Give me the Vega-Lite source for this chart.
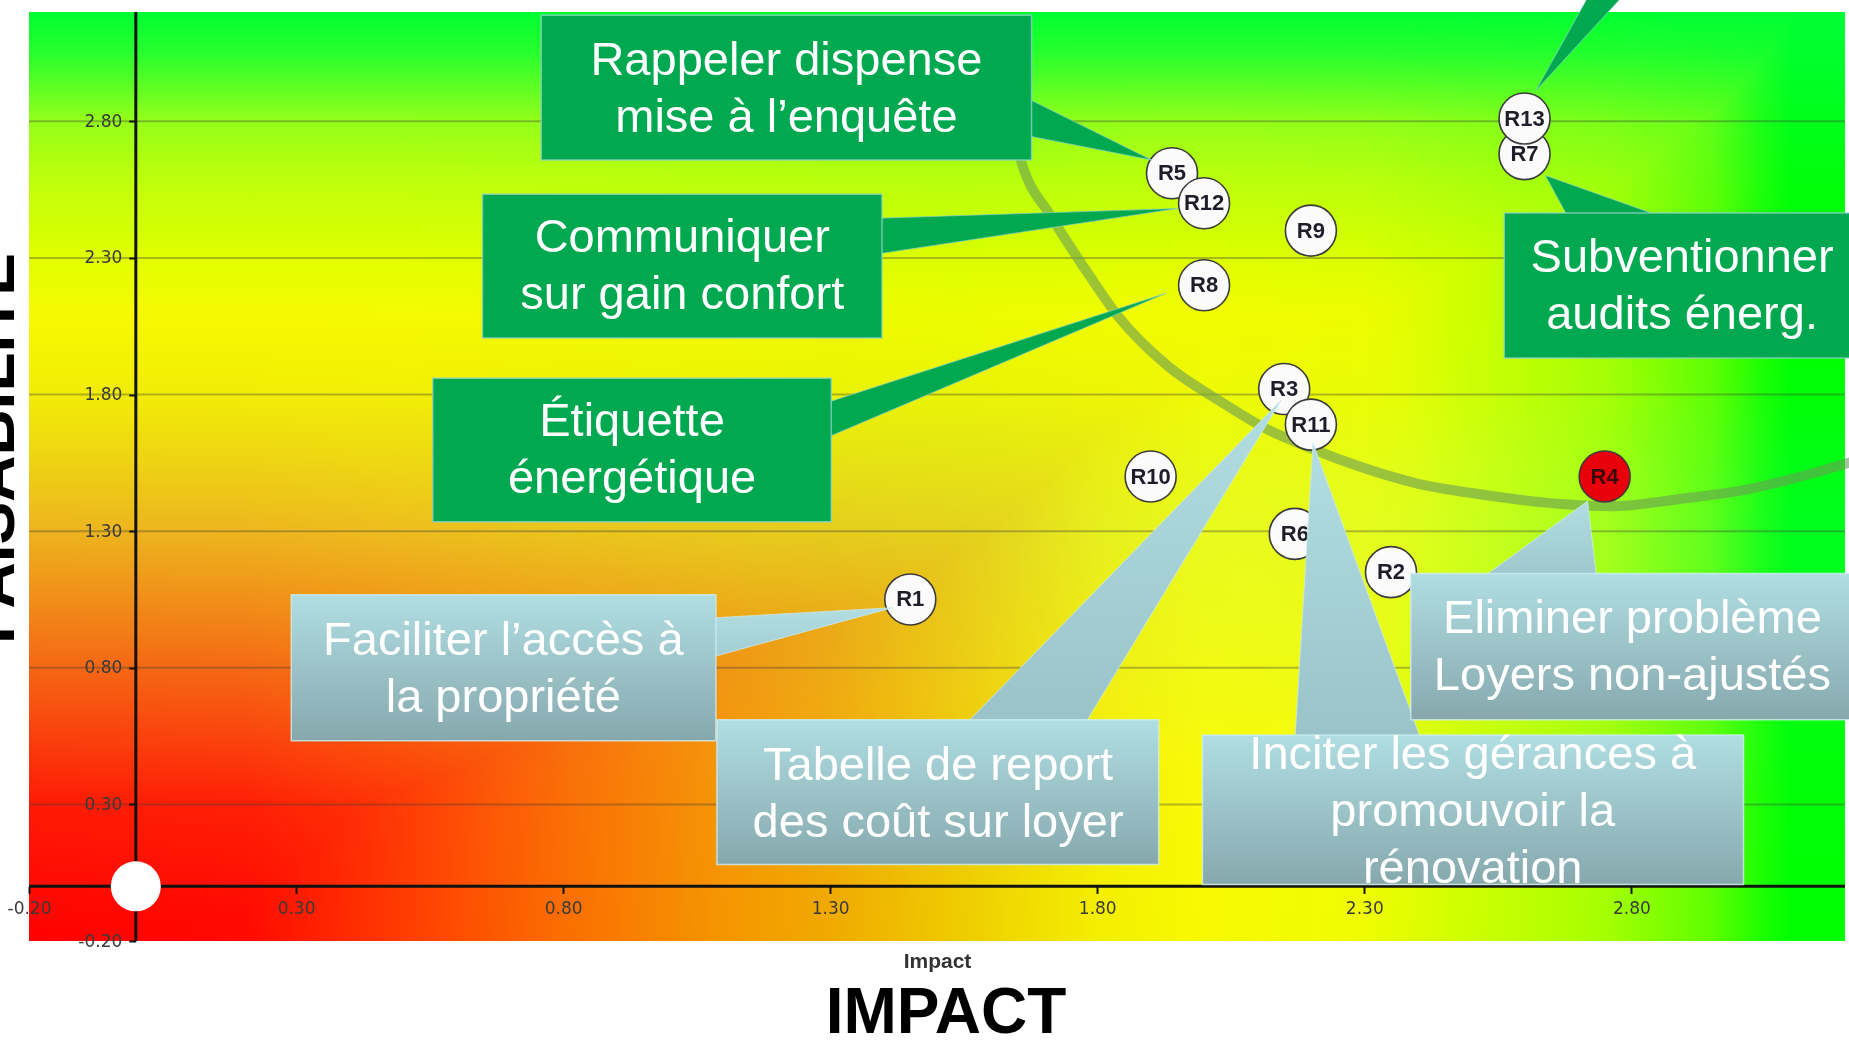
{
  "$schema": "https://vega.github.io/schema/vega-lite/v6.json",
  "width": 1816,
  "height": 929,
  "autosize": {"type": "none"},
  "padding": {"left": 29, "top": 12, "right": 4, "bottom": 102},
  "background": "#ffffff",
  "title": {"text": "IMPACT", "orient": "bottom", "anchor": "middle", "frame": "group", "font": "Liberation Sans", "fontSize": 64, "fontWeight": "bold", "color": "#000000", "baseline": "alphabetic", "offset": 62, "dx": 9},
  "config": {"view": {"stroke": null}},
  "resolve": {"axis": {"x": "independent", "y": "independent"}},
  "datasets": {
    "points": [
      {"label": "R1", "impact": 1.45, "faisabilite": 1.05, "group": "normal"},
      {"label": "R2", "impact": 2.35, "faisabilite": 1.15, "group": "normal"},
      {"label": "R6", "impact": 2.17, "faisabilite": 1.29, "group": "normal"},
      {"label": "R10", "impact": 1.9, "faisabilite": 1.5, "group": "normal"},
      {"label": "R3", "impact": 2.15, "faisabilite": 1.82, "group": "normal"},
      {"label": "R11", "impact": 2.2, "faisabilite": 1.69, "group": "normal"},
      {"label": "R4", "impact": 2.75, "faisabilite": 1.5, "group": "critical"},
      {"label": "R8", "impact": 2.0, "faisabilite": 2.2, "group": "normal"},
      {"label": "R9", "impact": 2.2, "faisabilite": 2.4, "group": "normal"},
      {"label": "R5", "impact": 1.94, "faisabilite": 2.61, "group": "normal"},
      {"label": "R12", "impact": 2.0, "faisabilite": 2.5, "group": "normal"},
      {"label": "R7", "impact": 2.6, "faisabilite": 2.68, "group": "normal"},
      {"label": "R13", "impact": 2.6, "faisabilite": 2.81, "group": "normal"}
    ],
    "grid": [{"y": 0.3}, {"y": 0.8}, {"y": 1.3}, {"y": 1.8}, {"y": 2.3}, {"y": 2.8}],
    "arc": [
      {"x": 1.646, "y": 2.735}, {"x": 1.659, "y": 2.645}, {"x": 1.714, "y": 2.451}, {"x": 1.778, "y": 2.257},
      {"x": 1.84, "y": 2.084}, {"x": 1.933, "y": 1.903}, {"x": 2.028, "y": 1.778}, {"x": 2.12, "y": 1.671},
      {"x": 2.176, "y": 1.623}, {"x": 2.271, "y": 1.55}, {"x": 2.394, "y": 1.477}, {"x": 2.52, "y": 1.434},
      {"x": 2.67, "y": 1.399}, {"x": 2.763, "y": 1.391}, {"x": 2.888, "y": 1.417}, {"x": 3.012, "y": 1.451},
      {"x": 3.138, "y": 1.511}, {"x": 3.21, "y": 1.552}
    ],
    "pointersV": [
      {"id": "p1", "kind": "green", "x": 1.62, "ylo": 2.766, "yhi": 2.932},
      {"id": "p1", "kind": "green", "x": 1.902, "ylo": 2.658, "yhi": 2.658},
      {"id": "p2", "kind": "green", "x": 1.34, "ylo": 2.3, "yhi": 2.442},
      {"id": "p2", "kind": "green", "x": 1.951, "ylo": 2.481, "yhi": 2.481},
      {"id": "p3", "kind": "green", "x": 1.245, "ylo": 1.602, "yhi": 1.74},
      {"id": "p3", "kind": "green", "x": 1.929, "ylo": 2.171, "yhi": 2.171},
      {"id": "p6", "kind": "blue", "x": 1.03, "ylo": 0.813, "yhi": 0.977},
      {"id": "p6", "kind": "blue", "x": 1.417, "ylo": 1.02, "yhi": 1.02}
    ],
    "pointersH": [
      {"id": "p4", "kind": "green", "y": 2.912, "xlo": 2.621, "xhi": 2.621},
      {"id": "p4", "kind": "green", "y": 3.35, "xlo": 2.746, "xhi": 2.827},
      {"id": "p5", "kind": "green", "y": 2.602, "xlo": 2.639, "xhi": 2.639},
      {"id": "p5", "kind": "green", "y": 2.4, "xlo": 2.695, "xhi": 2.93},
      {"id": "p7", "kind": "blue", "y": 1.781, "xlo": 2.145, "xhi": 2.145},
      {"id": "p7", "kind": "blue", "y": 0.55, "xlo": 1.532, "xhi": 1.763},
      {"id": "p8", "kind": "blue", "y": 1.623, "xlo": 2.204, "xhi": 2.204},
      {"id": "p8", "kind": "blue", "y": 0.5, "xlo": 2.169, "xhi": 2.413},
      {"id": "p9", "kind": "blue", "y": 1.41, "xlo": 2.718, "xhi": 2.718},
      {"id": "p9", "kind": "blue", "y": 1.08, "xlo": 2.486, "xhi": 2.738}
    ],
    "boxes": [
      {"id": "b1", "kind": "green", "x1": 0.759, "x2": 1.677, "y1": 2.658, "y2": 3.188, "cx": 1.218, "cy": 3.02, "text": "Rappeler dispense|mise à l’enquête"},
      {"id": "b2", "kind": "green", "x1": 0.649, "x2": 1.397, "y1": 2.007, "y2": 2.533, "cx": 1.023, "cy": 2.373, "text": "Communiquer|sur gain confort"},
      {"id": "b3", "kind": "green", "x1": 0.556, "x2": 1.302, "y1": 1.334, "y2": 1.86, "cx": 0.929, "cy": 1.701, "text": "Étiquette|énergétique"},
      {"id": "b5", "kind": "green", "x1": 2.562, "x2": 3.21, "y1": 1.934, "y2": 2.464, "cx": 2.895, "cy": 2.3, "text": "Subventionner|audits énerg."},
      {"id": "b6", "kind": "blue", "x1": 0.291, "x2": 1.086, "y1": 0.533, "y2": 1.067, "cx": 0.688, "cy": 0.899, "text": "Faciliter l’accès à|la propriété"},
      {"id": "b7", "kind": "blue", "x1": 1.088, "x2": 1.915, "y1": 0.08, "y2": 0.61, "cx": 1.502, "cy": 0.442, "text": "Tabelle de report|des coût sur loyer"},
      {"id": "b8", "kind": "blue", "x1": 1.997, "x2": 3.01, "y1": 0.007, "y2": 0.554, "cx": 2.503, "cy": 0.481, "text": "Inciter les gérances à|promouvoir la|rénovation"},
      {"id": "b9", "kind": "blue", "x1": 2.387, "x2": 3.21, "y1": 0.61, "y2": 1.145, "cx": 2.802, "cy": 0.977, "text": "Eliminer problème|Loyers non-ajustés"}
    ]
  },
  "layer": [
    {
      "data": {"values": [{}]},
      "mark": {"type": "rect", "fill": {"gradient": "linear", "x1": 0, "y1": 1, "x2": 0, "y2": 0, "stops": [
        {"offset": 0, "color": "#FF0000"}, {"offset": 0.147, "color": "#FF1A06"}, {"offset": 0.294, "color": "#F56614"},
        {"offset": 0.441, "color": "#EDB41E"}, {"offset": 0.515, "color": "#EED214"}, {"offset": 0.588, "color": "#F2EC06"},
        {"offset": 0.676, "color": "#F6FA00"}, {"offset": 0.735, "color": "#E2FF00"}, {"offset": 0.82, "color": "#BEFF0C"},
        {"offset": 0.882, "color": "#96FF19"}, {"offset": 0.956, "color": "#28FF2D"}, {"offset": 1, "color": "#00FF32"}]}},
      "encoding": {
        "x": {"datum": -0.2, "type": "quantitative", "scale": {"domain": [-0.2, 3.2], "nice": false, "zero": false}, "axis": null},
        "x2": {"datum": 3.2},
        "y": {"datum": -0.2, "type": "quantitative", "scale": {"domain": [-0.2, 3.2], "nice": false, "zero": false}, "axis": null},
        "y2": {"datum": 3.2}
      }
    },
    {
      "data": {"values": [{}]},
      "mark": {"type": "rect", "blend": "multiply", "opacity": 0.5, "fill": {"gradient": "linear", "x1": 0, "y1": 0, "x2": 1, "y2": 0, "stops": [
        {"offset": 0, "color": "#FFFFFF"}, {"offset": 0.206, "color": "#FFFFFF"}, {"offset": 0.294, "color": "#FAFFFF"},
        {"offset": 0.382, "color": "#F5FFFF"}, {"offset": 0.441, "color": "#F0FFFF"}, {"offset": 0.515, "color": "#EEFFFF"},
        {"offset": 0.588, "color": "#F4FFFF"}, {"offset": 0.647, "color": "#F8FFFF"}, {"offset": 0.735, "color": "#F0FFFF"},
        {"offset": 0.794, "color": "#CDFFFF"}, {"offset": 0.868, "color": "#A5FFFF"}, {"offset": 0.926, "color": "#5FFFFF"},
        {"offset": 0.956, "color": "#19FFFF"}, {"offset": 0.971, "color": "#00FFFF"}, {"offset": 1, "color": "#00FFFF"}]}},
      "encoding": {
        "x": {"datum": -0.2, "type": "quantitative", "scale": {"domain": [-0.2, 3.2], "nice": false, "zero": false}, "axis": null},
        "x2": {"datum": 3.2},
        "y": {"datum": -0.2, "type": "quantitative", "scale": {"domain": [-0.2, 3.2], "nice": false, "zero": false}, "axis": null},
        "y2": {"datum": 3.2}
      }
    },
    {
      "data": {"values": [{}]},
      "mark": {"type": "rect", "blend": "darken", "fill": {"gradient": "linear", "x1": 0, "y1": 0, "x2": 1, "y2": 0, "stops": [
        {"offset": 0, "color": "#FFFFFF"}, {"offset": 0.206, "color": "#FFFFFF"}, {"offset": 0.294, "color": "#FAFFFF"},
        {"offset": 0.382, "color": "#F5FFFF"}, {"offset": 0.441, "color": "#F0FFFF"}, {"offset": 0.515, "color": "#EEFFFF"},
        {"offset": 0.588, "color": "#F4FFFF"}, {"offset": 0.647, "color": "#F8FFFF"}, {"offset": 0.735, "color": "#F0FFFF"},
        {"offset": 0.794, "color": "#CDFFFF"}, {"offset": 0.868, "color": "#A5FFFF"}, {"offset": 0.926, "color": "#5FFFFF"},
        {"offset": 0.956, "color": "#19FFFF"}, {"offset": 0.971, "color": "#00FFFF"}, {"offset": 1, "color": "#00FFFF"}]}},
      "encoding": {
        "x": {"datum": -0.2, "type": "quantitative", "scale": {"domain": [-0.2, 3.2], "nice": false, "zero": false}, "axis": null},
        "x2": {"datum": 3.2},
        "y": {"datum": -0.2, "type": "quantitative", "scale": {"domain": [-0.2, 3.2], "nice": false, "zero": false}, "axis": null},
        "y2": {"datum": 3.2}
      }
    },
    {
      "data": {"values": [{}]},
      "mark": {"type": "rect", "blend": "screen", "opacity": 0.5, "fill": {"gradient": "linear", "x1": 0, "y1": 0, "x2": 1, "y2": 0, "stops": [
        {"offset": 0, "color": "#000000"}, {"offset": 0.118, "color": "#000A00"}, {"offset": 0.206, "color": "#003C00"},
        {"offset": 0.294, "color": "#006E00"}, {"offset": 0.382, "color": "#009600"}, {"offset": 0.441, "color": "#00AA00"},
        {"offset": 0.515, "color": "#00CD00"}, {"offset": 0.588, "color": "#00EE00"}, {"offset": 0.647, "color": "#00FA00"},
        {"offset": 0.735, "color": "#00FC00"}, {"offset": 0.794, "color": "#00FF00"}, {"offset": 1, "color": "#00FF00"}]}},
      "encoding": {
        "x": {"datum": -0.2, "type": "quantitative", "scale": {"domain": [-0.2, 3.2], "nice": false, "zero": false}, "axis": null},
        "x2": {"datum": 3.2},
        "y": {"datum": -0.2, "type": "quantitative", "scale": {"domain": [-0.2, 3.2], "nice": false, "zero": false}, "axis": null},
        "y2": {"datum": 3.2}
      }
    },
    {
      "data": {"values": [{}]},
      "mark": {"type": "rect", "blend": "lighten", "fill": {"gradient": "linear", "x1": 0, "y1": 0, "x2": 1, "y2": 0, "stops": [
        {"offset": 0, "color": "#000000"}, {"offset": 0.118, "color": "#000A00"}, {"offset": 0.206, "color": "#003C00"},
        {"offset": 0.294, "color": "#006E00"}, {"offset": 0.382, "color": "#009600"}, {"offset": 0.441, "color": "#00AA00"},
        {"offset": 0.515, "color": "#00CD00"}, {"offset": 0.588, "color": "#00EE00"}, {"offset": 0.647, "color": "#00FA00"},
        {"offset": 0.735, "color": "#00FC00"}, {"offset": 0.794, "color": "#00FF00"}, {"offset": 1, "color": "#00FF00"}]}},
      "encoding": {
        "x": {"datum": -0.2, "type": "quantitative", "scale": {"domain": [-0.2, 3.2], "nice": false, "zero": false}, "axis": null},
        "x2": {"datum": 3.2},
        "y": {"datum": -0.2, "type": "quantitative", "scale": {"domain": [-0.2, 3.2], "nice": false, "zero": false}, "axis": null},
        "y2": {"datum": 3.2}
      }
    },
    {
      "data": {"name": "grid"},
      "mark": {"type": "rule", "stroke": "#3a3a3a", "strokeOpacity": 0.35, "strokeWidth": 2},
      "encoding": {
        "y": {"field": "y", "type": "quantitative", "scale": {"domain": [-0.2, 3.2], "nice": false, "zero": false}, "axis": null}
      }
    },
    {
      "data": {"values": [{}]},
      "mark": {"type": "rule", "stroke": "#111111", "strokeWidth": 3},
      "encoding": {
        "x": {"datum": 0, "type": "quantitative", "scale": {"domain": [-0.2, 3.2], "nice": false, "zero": false}, "axis": null}
      }
    },
    {
      "data": {"values": [{}]},
      "mark": {"type": "rule", "stroke": "#111111", "strokeWidth": 3},
      "encoding": {
        "y": {"datum": 0, "type": "quantitative", "scale": {"domain": [-0.2, 3.2], "nice": false, "zero": false}, "axis": null}
      }
    },
    {
      "data": {"name": "arc"},
      "mark": {"type": "line", "interpolate": "monotone", "stroke": "#6A9C55", "strokeWidth": 10, "opacity": 0.6, "strokeCap": "round"},
      "encoding": {
        "x": {"field": "x", "type": "quantitative", "scale": {"domain": [-0.2, 3.2], "nice": false, "zero": false}, "axis": null},
        "y": {"field": "y", "type": "quantitative", "scale": {"domain": [-0.2, 3.2], "nice": false, "zero": false}, "axis": null}
      }
    },
    {
      "data": {"values": [{}]},
      "mark": {"type": "circle", "size": 2500, "fill": "#ffffff", "opacity": 1},
      "encoding": {
        "x": {"datum": 0, "type": "quantitative", "scale": {"domain": [-0.2, 3.2], "nice": false, "zero": false}, "axis": null},
        "y": {"datum": 0, "type": "quantitative", "scale": {"domain": [-0.2, 3.2], "nice": false, "zero": false}, "axis": null}
      }
    },
    {
      "data": {"name": "points"},
      "mark": {"type": "circle", "size": 2600, "opacity": 1, "stroke": "#3b3b3b", "strokeWidth": 1.6},
      "encoding": {
        "x": {"field": "impact", "type": "quantitative", "scale": {"domain": [-0.2, 3.2], "nice": false, "zero": false},
          "axis": {"orient": "bottom", "title": "Impact", "values": [-0.2, 0.3, 0.8, 1.3, 1.8, 2.3, 2.8], "format": ".2f", "labelExpr": "replace(datum.label, '−', '-')", "offset": -54.6, "domain": false, "grid": false, "ticks": true, "tickSize": 7, "tickWidth": 2, "tickColor": "#111111", "labelFont": "DejaVu Sans", "labelFontSize": 17, "labelColor": "#3a3a3a", "labelPadding": 7, "labelFlush": false, "labelOverlap": false, "titleFont": "Liberation Sans", "titleFontSize": 21, "titleFontWeight": "bold", "titleColor": "#333333", "titleY": 75, "titleBaseline": "middle", "zindex": 1}},
        "y": {"field": "faisabilite", "type": "quantitative", "scale": {"domain": [-0.2, 3.2], "nice": false, "zero": false},
          "axis": {"orient": "left", "title": "FAISABILITE", "values": [-0.2, 0.3, 0.8, 1.3, 1.8, 2.3, 2.8], "format": ".2f", "labelExpr": "replace(datum.label, '−', '-')", "offset": -106.8, "domain": false, "grid": false, "ticks": true, "tickSize": 7, "tickWidth": 2, "tickColor": "#111111", "labelFont": "DejaVu Sans", "labelFontSize": 17, "labelColor": "#3a3a3a", "labelPadding": 7, "labelOverlap": false, "titleFont": "Liberation Sans", "titleFontSize": 64, "titleFontWeight": "bold", "titleColor": "#000000", "titleAngle": 270, "titleX": -122, "titleY": 436, "titleAlign": "center", "titleBaseline": "alphabetic", "zindex": 1}},
        "fill": {"field": "group", "type": "nominal", "scale": {"domain": ["normal", "critical"], "range": ["#fbfbfb", "#e8000b"]}, "legend": null}
      }
    },
    {
      "data": {"name": "points"},
      "mark": {"type": "text", "font": "Liberation Sans", "fontSize": 22, "fontWeight": "bold", "align": "center", "baseline": "middle"},
      "encoding": {
        "x": {"field": "impact", "type": "quantitative", "scale": {"domain": [-0.2, 3.2], "nice": false, "zero": false}, "axis": null},
        "y": {"field": "faisabilite", "type": "quantitative", "scale": {"domain": [-0.2, 3.2], "nice": false, "zero": false}, "axis": null},
        "text": {"field": "label"},
        "color": {"field": "group", "type": "nominal", "scale": {"domain": ["normal", "critical"], "range": ["#1e1e2a", "#3a0808"]}, "legend": null}
      }
    },
    {
      "data": {"name": "pointersV"},
      "transform": [{"filter": "datum.kind === 'green'"}],
      "mark": {"type": "area", "orient": "vertical", "fill": "#00A94F", "stroke": "#8ccfc8", "strokeWidth": 1, "strokeOpacity": 0.7},
      "encoding": {
        "x": {"field": "x", "type": "quantitative", "scale": {"domain": [-0.2, 3.2], "nice": false, "zero": false}, "axis": null},
        "y": {"field": "yhi", "type": "quantitative", "scale": {"domain": [-0.2, 3.2], "nice": false, "zero": false}, "axis": null},
        "y2": {"field": "ylo"},
        "detail": {"field": "id"}
      }
    },
    {
      "data": {"name": "pointersH"},
      "transform": [{"filter": "datum.kind === 'green'"}],
      "mark": {"type": "area", "orient": "horizontal", "fill": "#00A94F", "stroke": "#8ccfc8", "strokeWidth": 1, "strokeOpacity": 0.7},
      "encoding": {
        "y": {"field": "y", "type": "quantitative", "scale": {"domain": [-0.2, 3.2], "nice": false, "zero": false}, "axis": null},
        "x": {"field": "xhi", "type": "quantitative", "scale": {"domain": [-0.2, 3.2], "nice": false, "zero": false}, "axis": null},
        "x2": {"field": "xlo"},
        "detail": {"field": "id"}
      }
    },
    {
      "data": {"name": "pointersV"},
      "transform": [{"filter": "datum.kind === 'blue'"}],
      "mark": {"type": "area", "orient": "vertical", "stroke": "#cfeef0", "strokeWidth": 1, "strokeOpacity": 0.7, "fill": {"gradient": "linear", "x1": 0, "y1": 0, "x2": 0, "y2": 1, "stops": [{"offset": 0, "color": "#B2DEE2"}, {"offset": 1, "color": "#A0CBD0"}]}},
      "encoding": {
        "x": {"field": "x", "type": "quantitative", "scale": {"domain": [-0.2, 3.2], "nice": false, "zero": false}, "axis": null},
        "y": {"field": "yhi", "type": "quantitative", "scale": {"domain": [-0.2, 3.2], "nice": false, "zero": false}, "axis": null},
        "y2": {"field": "ylo"},
        "detail": {"field": "id"}
      }
    },
    {
      "data": {"name": "pointersH"},
      "transform": [{"filter": "datum.kind === 'blue'"}],
      "mark": {"type": "area", "orient": "horizontal", "stroke": "#cfeef0", "strokeWidth": 1, "strokeOpacity": 0.7, "fill": {"gradient": "linear", "x1": 0, "y1": 0, "x2": 0, "y2": 1, "stops": [{"offset": 0, "color": "#B2DEE2"}, {"offset": 1, "color": "#98C2C7"}]}},
      "encoding": {
        "y": {"field": "y", "type": "quantitative", "scale": {"domain": [-0.2, 3.2], "nice": false, "zero": false}, "axis": null},
        "x": {"field": "xhi", "type": "quantitative", "scale": {"domain": [-0.2, 3.2], "nice": false, "zero": false}, "axis": null},
        "x2": {"field": "xlo"},
        "detail": {"field": "id"}
      }
    },
    {
      "data": {"name": "boxes"},
      "transform": [{"filter": "datum.kind === 'green'"}],
      "mark": {"type": "rect", "fill": "#00A94F", "stroke": "#8ccfc8", "strokeWidth": 1.5, "strokeOpacity": 0.8},
      "encoding": {
        "x": {"field": "x1", "type": "quantitative", "scale": {"domain": [-0.2, 3.2], "nice": false, "zero": false}, "axis": null},
        "x2": {"field": "x2"},
        "y": {"field": "y1", "type": "quantitative", "scale": {"domain": [-0.2, 3.2], "nice": false, "zero": false}, "axis": null},
        "y2": {"field": "y2"}
      }
    },
    {
      "data": {"name": "boxes"},
      "transform": [{"filter": "datum.kind === 'blue'"}],
      "mark": {"type": "rect", "stroke": "#cfeef0", "strokeWidth": 1.5, "strokeOpacity": 0.8, "fill": {"gradient": "linear", "x1": 0, "y1": 0, "x2": 0, "y2": 1, "stops": [{"offset": 0, "color": "#B0DEE3"}, {"offset": 1, "color": "#86A8AD"}]}},
      "encoding": {
        "x": {"field": "x1", "type": "quantitative", "scale": {"domain": [-0.2, 3.2], "nice": false, "zero": false}, "axis": null},
        "x2": {"field": "x2"},
        "y": {"field": "y1", "type": "quantitative", "scale": {"domain": [-0.2, 3.2], "nice": false, "zero": false}, "axis": null},
        "y2": {"field": "y2"}
      }
    },
    {
      "data": {"name": "boxes"},
      "mark": {"type": "text", "font": "Liberation Sans", "fontSize": 47, "lineHeight": 57, "lineBreak": "|", "align": "center", "baseline": "middle", "fill": "#ffffff"},
      "encoding": {
        "x": {"field": "cx", "type": "quantitative", "scale": {"domain": [-0.2, 3.2], "nice": false, "zero": false}, "axis": null},
        "y": {"field": "cy", "type": "quantitative", "scale": {"domain": [-0.2, 3.2], "nice": false, "zero": false}, "axis": null},
        "text": {"field": "text"}
      }
    }
  ]
}
